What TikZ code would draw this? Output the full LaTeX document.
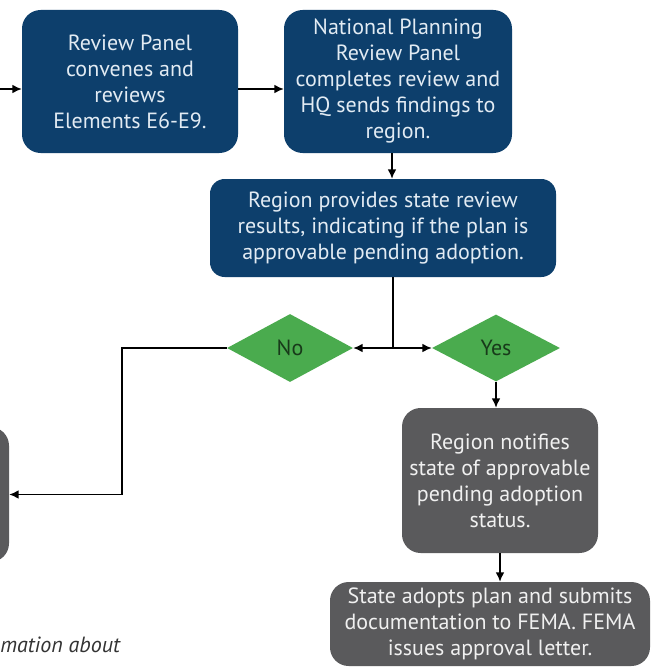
\documentclass[tikz,border=0pt]{standalone}
\usepackage{fontspec}
\setmainfont{PT Sans}
\usetikzlibrary{shapes.geometric,arrows.meta}
\definecolor{navy}{HTML}{0D3F6C}
\definecolor{navytext}{HTML}{E2EBF3}
\definecolor{slate}{HTML}{5A5A5C}
\definecolor{leaf}{HTML}{4AAB4E}
\definecolor{leaftext}{HTML}{183A1A}
\definecolor{note}{HTML}{333333}

\begin{document}
\begin{tikzpicture}[x=0.75pt,y=-0.75pt]
\tikzstyle{navybox}=[rectangle, rounded corners=14pt, fill=navy, text=navytext, align=center, inner sep=0pt, font=\fontsize{16.5}{19.5}\selectfont]
\tikzstyle{graybox}=[navybox, fill=slate, text=white!94!black]
\tikzstyle{choice}=[diamond, fill=leaf, text=leaftext, inner sep=0pt, font=\fontsize{16.5}{19.5}\selectfont]
\tikzstyle{connect}=[-{Latex[length=7pt,width=6.5pt]}, line width=1pt]
\clip (0,0) rectangle (652,667);
\fill[white] (0,0) rectangle (652,667);

\node[navybox, minimum width=162pt, minimum height=107.25pt] (rp) at (130,81.5) {Review Panel\\convenes and\\reviews\\Elements E6-E9.};
\node[navybox, minimum width=171pt, minimum height=107.25pt] (nprp) at (398,81.5) {National Planning\\Review Panel\\completes review and\\HQ sends findings to\\region.};
\node[navybox, rounded corners=11pt, minimum width=259.5pt, minimum height=73.5pt] (results) at (383,228) {Region provides state review\\results, indicating if the plan is\\approvable pending adoption.};
\node[choice, minimum width=94.5pt, minimum height=51pt] (no) at (290,348) {No};
\node[choice, minimum width=96pt, minimum height=50.25pt] (yes) at (496,348) {Yes};
\node[graybox, minimum width=147pt, minimum height=108.75pt] (notify) at (500,480.5) {Region notifies\\state of approvable\\pending adoption\\status.};
\node[graybox, minimum width=240pt, minimum height=63pt] (adopt) at (490,624) {State adopts plan and submits\\documentation to FEMA. FEMA\\issues approval letter.};
\node[graybox, minimum width=103.5pt, minimum height=101.25pt] (revise) at (-60,494.5) {};
\node[anchor=base west, inner sep=0pt, text=note, font=\fontsize{16.5}{19.5}\selectfont\itshape] (info) at (0,652) {mation about};

\coordinate (in) at (0,89);
\coordinate (split) at (393,348);
\coordinate (bend) at (122,494.5);

\path (in) edge [connect] (in -| rp.west);
\path (rp.east |- in) edge [connect] (nprp.west |- in);
\path ([xshift=-4.5pt]nprp.south) edge [connect] ([xshift=-4.5pt]nprp.south |- results.north);
\draw[line width=1pt] (results.south -| split) -- (split);
\path (split) edge [connect] (no.east);
\path (split) edge [connect] (yes.west);
\draw[connect] (no.west) -| (bend) -- (revise.east);
\path (yes.south) edge [connect] (yes.south |- notify.north);
\path (notify.south) edge [connect] (notify.south |- adopt.north);
\end{tikzpicture}
\end{document}
